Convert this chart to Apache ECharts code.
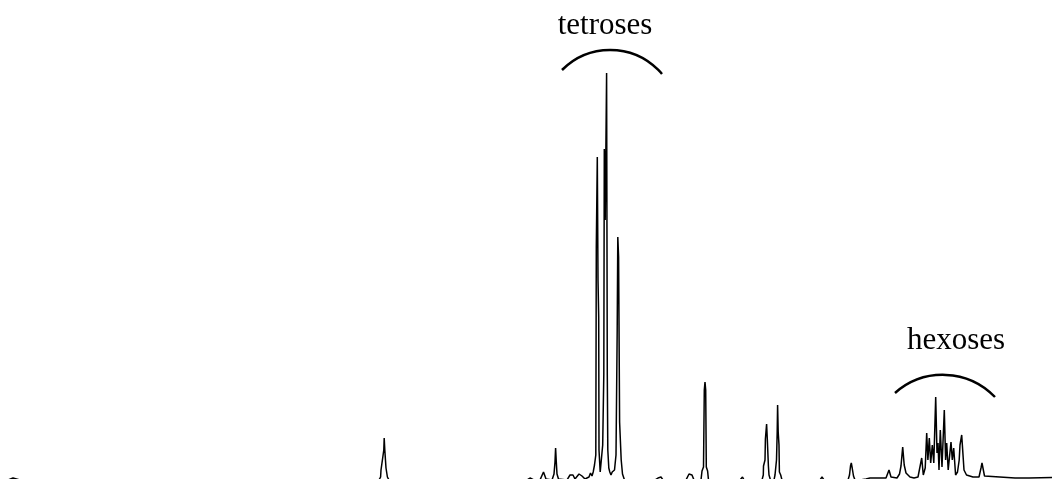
<!DOCTYPE html>
<html>
<head>
<meta charset="utf-8">
<script src="https://cdn.jsdelivr.net/npm/echarts@6/dist/echarts.min.js"></script>
<style>
  html, body { margin: 0; padding: 0; background: #fff; overflow: hidden; }
  #chart { width: 1052px; height: 479px; }
</style>
</head>
<body>
<div id="chart"></div>
<script>
// Chromatogram trace: [scan, detector signal] pairs, split by retention region.
const traceEarly = [
  [0, 0], [8, 0], [9.5, 2], [13, 2], [14.5, 0], [20, 0], [120, 0], [250, 0],
  [379, 0], [380.6, 3], [381, 10], [382.6, 12], [383.8, 30], [384.2, 42], [384.8, 30], [386, 12], [387, 10], [387.4, 3], [389, 0],
  [450, 0],
  [527, 0], [530, 2], [532, 2], [534, 0],
  [540, 0], [543.5, 8], [546, 1],
  [552, 0], [554, 6], [555, 18], [555.6, 32], [556.3, 18], [557, 6], [558.5, 1],
  [567, 0], [570, 5], [572, 3], [573, 5], [575, 1],
  [577, 1], [579, 6], [580.5, 7], [582, 4], [583.5, 3], [585, 1]
];

const traceTetroses = [
  [587, 1], [589, 3], [590.5, 7], [592, 4], [593.2, 8], [594.5, 15], [595.8, 25],
  [596.3, 233], [597.3, 323], [598.0, 200], [598.7, 163], [599.0, 30], [600.2, 8],
  [601.5, 10], [602.7, 35], [603.8, 105], [604.3, 331], [605.2, 260], [606.6, 407],
  [607.3, 105], [607.8, 30], [608.8, 12], [609.8, 8], [611, 5], [612.2, 8], [613.3, 6],
  [614.5, 10], [616, 25], [617.2, 150], [617.8, 243], [618.6, 223], [619.6, 58],
  [621.2, 20], [622.5, 6], [624.5, 0]
];

const traceMiddle = [
  [640, 0], [655, 0], [658, 2], [661, 3], [663, 0],
  [686, 0], [689, 6], [690.5, 7], [692, 5], [694, 0],
  [701, 0], [702, 9], [703.5, 13], [704.3, 90], [705, 98], [705.7, 90], [706.3, 13], [707.6, 9], [708.5, 0],
  [725, 0], [740, 0], [742.5, 3], [744, 0], [752, 0],
  [762, 0], [763.3, 5], [763.5, 14], [765, 20], [765.4, 41], [766.6, 56], [767.3, 41], [768.4, 14], [769, 5], [770.5, 0],
  [774, 0], [775, 5], [776.5, 20], [777.2, 48], [777.6, 75], [778.2, 48], [779, 35], [779.4, 8], [780.7, 5], [782, 0],
  [800, 0], [820, 0], [822, 3], [824, 0], [835, 0],
  [848, 0], [849.5, 5], [850.5, 14], [851.3, 17], [852.2, 12], [853.5, 4], [855, 0]
];

const traceHexoses = [
  [860, 0], [866, 1], [870, 2], [880, 2], [886, 2], [889, 10], [891, 3], [897, 2],
  [899.5, 6], [901, 14], [902.7, 33], [904.2, 15], [906, 7], [908, 5], [910, 3], [914, 2],
  [916, 4], [918, 3], [919.5, 5], [921.7, 22], [923.3, 5], [925.2, 12], [926.7, 47],
  [927.9, 20], [929.3, 42], [930.7, 17], [932.3, 35], [933.8, 17], [935.7, 83], [937, 27],
  [938, 37], [939, 10], [940.3, 50], [942, 13], [944.3, 70], [945.6, 20], [946.7, 37],
  [948.2, 10], [951, 38], [952.3, 20], [953.7, 32], [955.6, 5], [957.5, 8], [959.2, 20],
  [960, 35], [961.7, 45], [964, 10], [966.5, 5], [973, 3], [979, 3], [981, 12], [982, 17],
  [983.2, 15], [984.5, 4], [986, 2], [1015, 2], [1017, 4], [1019, 2], [1026, 2],
  [1027.5, 3.5], [1029, 2], [1052, 2.5]
];

const trace = traceEarly.concat(traceTetroses, traceMiddle, traceHexoses);

// Sugar-class groups: name and the bracket spanning their peaks (scan, signal).
const groupNames = ['tetroses', 'hexoses'];
const groupAnnotations = [
  { label: [605, 454], arcFrom: [562, 410], arcApex: [608, 430], arcTo: [662, 406] },
  { label: [956, 139], arcFrom: [895, 87], arcApex: [938, 105], arcTo: [995, 83] }
];

function circleThrough(a, b, c) {
  const d = 2 * (a[0] * (b[1] - c[1]) + b[0] * (c[1] - a[1]) + c[0] * (a[1] - b[1]));
  const sa = a[0] * a[0] + a[1] * a[1];
  const sb = b[0] * b[0] + b[1] * b[1];
  const sc = c[0] * c[0] + c[1] * c[1];
  const cx = (sa * (b[1] - c[1]) + sb * (c[1] - a[1]) + sc * (a[1] - b[1])) / d;
  const cy = (sa * (c[0] - b[0]) + sb * (a[0] - c[0]) + sc * (b[0] - a[0])) / d;
  return { cx: cx, cy: cy, r: Math.hypot(a[0] - cx, a[1] - cy) };
}

const chart = echarts.init(document.getElementById('chart'), null, { renderer: 'canvas' });

// The zero-signal baseline falls just below the lower edge of the plot,
// so the axis starts slightly above zero and the trace is not clipped.
chart.setOption({
  animation: false,
  backgroundColor: '#ffffff',
  grid: { left: 0, right: 0, top: 0, bottom: 0, containLabel: false },
  xAxis: { type: 'value', min: 0, max: 1052, show: false },
  yAxis: { type: 'value', min: 1, max: 480, show: false },
  series: [
    {
      type: 'line',
      data: trace,
      showSymbol: false,
      symbol: 'none',
      smooth: false,
      clip: false,
      lineStyle: { color: '#000', width: 1.5 },
      silent: true
    },
    {
      type: 'custom',
      coordinateSystem: 'cartesian2d',
      clip: false,
      silent: true,
      data: groupAnnotations.map(function (g) { return g.label; }),
      renderItem: function (params, api) {
        const g = groupAnnotations[params.dataIndex];
        const p1 = api.coord(g.arcFrom);
        const pm = api.coord(g.arcApex);
        const p2 = api.coord(g.arcTo);
        const c = circleThrough(p1, pm, p2);
        const lp = api.coord(g.label);
        return {
          type: 'group',
          children: [
            {
              type: 'arc',
              shape: {
                cx: c.cx, cy: c.cy, r: c.r,
                startAngle: Math.atan2(p1[1] - c.cy, p1[0] - c.cx),
                endAngle: Math.atan2(p2[1] - c.cy, p2[0] - c.cx),
                clockwise: true
              },
              style: { stroke: '#000', lineWidth: 2.5, fill: null }
            },
            {
              type: 'text',
              x: lp[0],
              y: lp[1],
              style: {
                text: groupNames[params.dataIndex],
                font: '31px "Liberation Serif", "Times New Roman", serif',
                fill: '#000',
                align: 'center',
                verticalAlign: 'middle'
              }
            }
          ]
        };
      }
    }
  ]
});
</script>
</body>
</html>
